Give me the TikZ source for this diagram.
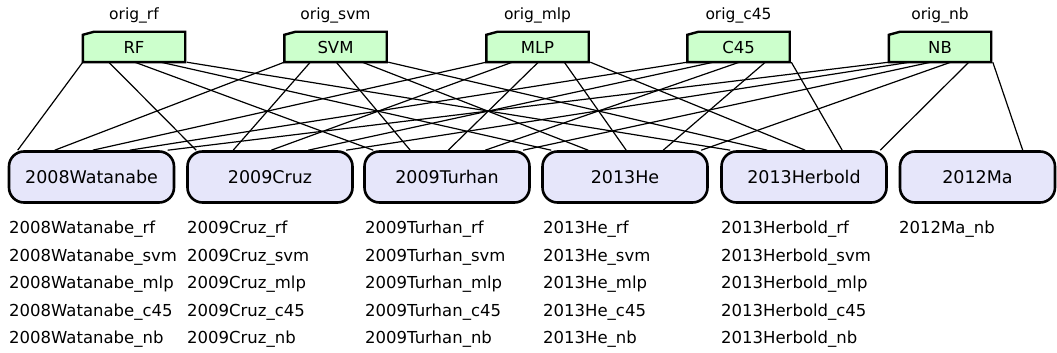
\documentclass[tikz,border=0pt]{standalone}
\usepackage{fontspec}
\setmainfont{DejaVu Sans}
\usepackage{tikz}
\usetikzlibrary{calc}
\usetikzlibrary{backgrounds}

\definecolor{clfgreen}{RGB}{204,255,204}
\definecolor{studyblue}{RGB}{230,230,250}

\tikzset{
  clf/.style={minimum width=102pt, minimum height=30pt, inner sep=0pt,
              font=\fontsize{16.5}{18}\selectfont},
  clfbox/.style={draw=black, fill=clfgreen, line width=2.4pt},
  origlab/.style={inner sep=0pt, font=\fontsize{15.5}{17}\selectfont},
  study/.style={draw=black, fill=studyblue, line width=2.6pt, rounded corners=15pt,
                minimum width=165pt, minimum height=51pt, inner sep=0pt,
                font=\fontsize{17.5}{19}\selectfont},
  runlist/.style={anchor=north west, align=left, inner sep=0pt,
                  font=\fontsize{16.5}{27.5}\selectfont},
  link/.style={draw=black, line width=1.2pt}
}

\begin{document}
\begin{tikzpicture}[x=1pt, y=-1pt]
   \useasboundingbox (0,0) rectangle (1057,353);

   \node[origlab] (rflab)  at (134.0, 15) {orig\_rf};
   \node[origlab] (svmlab) at (335.5, 15) {orig\_svm};
   \node[origlab] (mlplab) at (537.5, 15) {orig\_mlp};
   \node[origlab] (c45lab) at (738.5, 15) {orig\_c45};
   \node[origlab] (nblab)  at (940.0, 15) {orig\_nb};

   \node[clf] (rf)  at (134.0, 47) {RF};
   \node[clf] (svm) at (335.5, 47) {SVM};
   \node[clf] (mlp) at (537.5, 47) {MLP};
   \node[clf] (c45) at (738.5, 47) {C45};
   \node[clf] (nb)  at (940.0, 47) {NB};

   \begin{pgfonlayer}{background}
   \foreach \n in {rf,svm,mlp,c45,nb}
     \draw[clfbox] (\n.south west) -- ([yshift=-3pt]\n.north west)
       -- ([xshift=11pt]\n.north west) -- (\n.north east) -- (\n.south east) -- cycle;
   \end{pgfonlayer}

   \node[study] (wat)  at ( 91.5, 177) {2008Watanabe};
   \node[study] (cruz) at (270.0, 177) {2009Cruz};
   \node[study] (tur)  at (447.0, 177) {2009Turhan};
   \node[study] (he)   at (625.0, 177) {2013He};
   \node[study] (herb) at (804.0, 177) {2013Herbold};
   \node[study, minimum width=155pt] (ma) at (977.5, 177) {2012Ma};

   \node[runlist] (watruns)  at (  9, 221) {2008Watanabe\_rf\\2008Watanabe\_svm\\2008Watanabe\_mlp\\2008Watanabe\_c45\\2008Watanabe\_nb};
   \node[runlist] (cruzruns) at (187, 221) {2009Cruz\_rf\\2009Cruz\_svm\\2009Cruz\_mlp\\2009Cruz\_c45\\2009Cruz\_nb};
   \node[runlist] (turruns)  at (365, 221) {2009Turhan\_rf\\2009Turhan\_svm\\2009Turhan\_mlp\\2009Turhan\_c45\\2009Turhan\_nb};
   \node[runlist] (heruns)   at (543, 221) {2013He\_rf\\2013He\_svm\\2013He\_mlp\\2013He\_c45\\2013He\_nb};
   \node[runlist] (herbruns) at (721, 221) {2013Herbold\_rf\\2013Herbold\_svm\\2013Herbold\_mlp\\2013Herbold\_c45\\2013Herbold\_nb};
   \node[runlist] (maruns)   at (899, 221) {2012Ma\_nb};

   \draw[link] ([xshift=  0pt]rf.south west)  -- ([xshift= 10pt]wat.north west);
   \draw[link] ([xshift= 26pt]rf.south west)  -- ([xshift= 10pt]cruz.north west);
   \draw[link] ([xshift= 52pt]rf.south west)  -- ([xshift= 10pt]tur.north west);
   \draw[link] ([xshift= 78pt]rf.south west)  -- ([xshift= 10pt]he.north west);
   \draw[link] ([xshift=104pt]rf.south west)  -- ([xshift= 10pt]herb.north west);

   \draw[link] ([xshift=  0pt]svm.south west) -- ([xshift= 47pt]wat.north west);
   \draw[link] ([xshift= 26pt]svm.south west) -- ([xshift= 47pt]cruz.north west);
   \draw[link] ([xshift= 52pt]svm.south west) -- ([xshift= 47pt]tur.north west);
   \draw[link] ([xshift= 78pt]svm.south west) -- ([xshift= 47pt]he.north west);
   \draw[link] ([xshift=104pt]svm.south west) -- ([xshift= 47pt]herb.north west);

   \draw[link] ([xshift=  0pt]mlp.south west) -- ([xshift= 85pt]wat.north west);
   \draw[link] ([xshift= 26pt]mlp.south west) -- ([xshift= 85pt]cruz.north west);
   \draw[link] ([xshift= 52pt]mlp.south west) -- ([xshift= 85pt]tur.north west);
   \draw[link] ([xshift= 78pt]mlp.south west) -- ([xshift= 85pt]he.north west);
   \draw[link] ([xshift=104pt]mlp.south west) -- ([xshift= 85pt]herb.north west);

   \draw[link] ([xshift=  0pt]c45.south west) -- ([xshift=122pt]wat.north west);
   \draw[link] ([xshift= 26pt]c45.south west) -- ([xshift=122pt]cruz.north west);
   \draw[link] ([xshift= 52pt]c45.south west) -- ([xshift=122pt]tur.north west);
   \draw[link] ([xshift= 78pt]c45.south west) -- ([xshift=122pt]he.north west);
   \draw[link] ([xshift=104pt]c45.south west) -- ([xshift=122pt]herb.north west);

   \draw[link] ([xshift=  0pt]nb.south west)  -- ([xshift=160pt]wat.north west);
   \draw[link] ([xshift= 21pt]nb.south west)  -- ([xshift=160pt]cruz.north west);
   \draw[link] ([xshift= 42pt]nb.south west)  -- ([xshift=160pt]tur.north west);
   \draw[link] ([xshift= 62pt]nb.south west)  -- ([xshift=160pt]he.north west);
   \draw[link] ([xshift= 80pt]nb.south west)  -- ([xshift=160pt]herb.north west);
   \draw[link] ([xshift=104pt]nb.south west)  -- ([xshift=124pt]ma.north west);
\end{tikzpicture}
\end{document}
